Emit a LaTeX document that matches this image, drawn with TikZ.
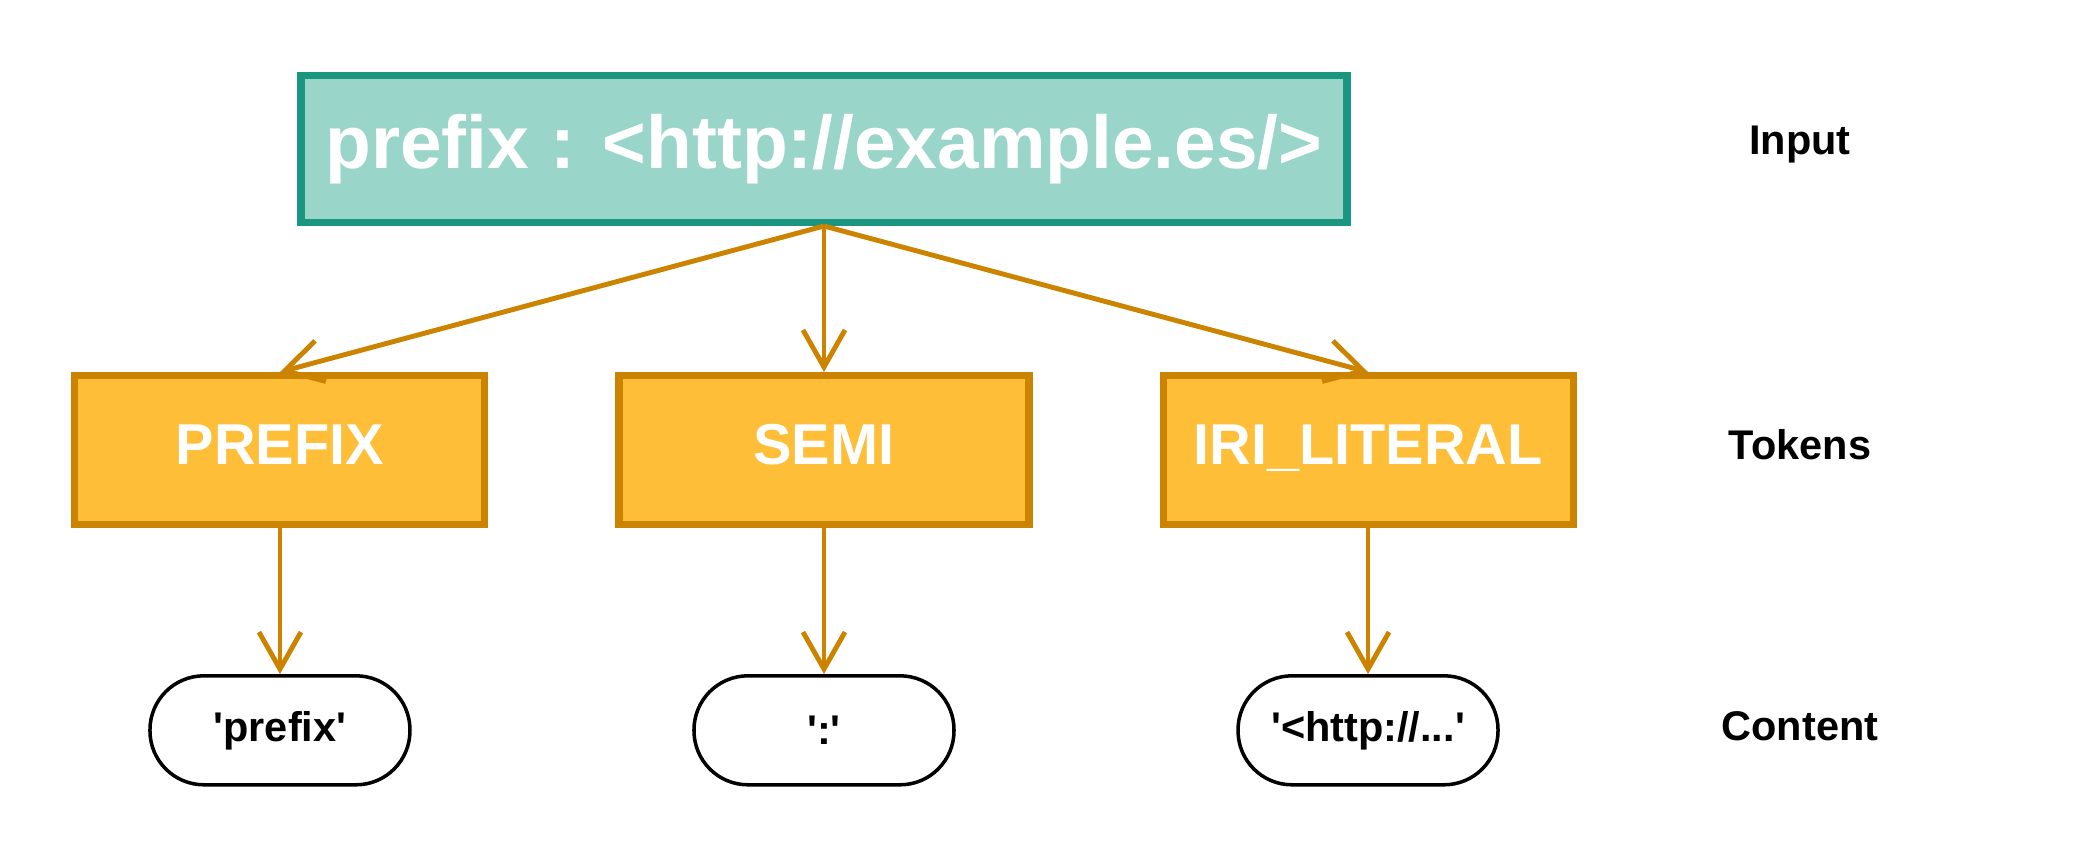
\documentclass[tikz,border=0pt]{standalone}
\usepackage{fontspec}
\setmainfont{Liberation Sans}
\usetikzlibrary{arrows.meta, positioning}
\definecolor{inputfill}{HTML}{9AD5CA}
\definecolor{inputline}{HTML}{1A9680}
\definecolor{tokfill}{HTML}{FEBE38}
\definecolor{tokline}{HTML}{CC8400}

\begin{document}
\begin{tikzpicture}[node distance=1.46cm and 1.27cm,
  >={Straight Barb[length=3.7mm, width=4.2mm]},
  inbox/.style={draw=inputline, fill=inputfill, line width=2pt,
    minimum width=10.46cm, minimum height=1.47cm, text=white,
    font=\fontsize{21.3}{25}\selectfont\bfseries},
  tokbox/.style={draw=tokline, fill=tokfill, line width=2pt,
    minimum width=4.1cm, minimum height=1.49cm, text=white, text depth=0.3em,
    font=\fontsize{16.4}{20}\selectfont\bfseries},
  pill/.style={draw, line width=1pt, rounded corners=0.54cm,
    minimum width=2.6cm, minimum height=1.09cm,
    font=\fontsize{11.8}{14}\selectfont\bfseries},
  rowlabel/.style={font=\fontsize{11.8}{14}\selectfont\bfseries},
  link/.style={->, draw=tokline, line width=1.4pt}]
  \useasboundingbox (0,0) rectangle (21,-8.63);

  % Input
  \node[inbox] (input) at (8.24,-1.49) {prefix : <http://example.es/>};

  % Tokens
  \node[tokbox, below=of input] (semi) {SEMI};
  \node[tokbox, left=of semi] (prefix) {PREFIX};
  \node[tokbox, right=of semi] (iri) {IRI\_LITERAL};
  \draw[link] (input.south) -- (prefix.north);
  \draw[link] (input.south) -- (semi.north);
  \draw[link] (input.south) -- (iri.north);

  % Content
  \node[pill, below=of prefix] (cprefix) {\textquotesingle prefix\textquotesingle};
  \node[pill, below=of semi] (csemi) {\textquotesingle:\textquotesingle};
  \node[pill, below=of iri] (ciri) {\textquotesingle<http://...\textquotesingle};
  \draw[link] (prefix) -- (cprefix);
  \draw[link] (semi) -- (csemi);
  \draw[link] (iri) -- (ciri);

  % Row labels
  \node[rowlabel] (linput) at (18.0,-1.45) {Input};
  \node[rowlabel] (ltokens) at (18.0,-4.45) {Tokens};
  \node[rowlabel] (lcontent) at (18.0,-7.26) {Content};
\end{tikzpicture}
\end{document}
